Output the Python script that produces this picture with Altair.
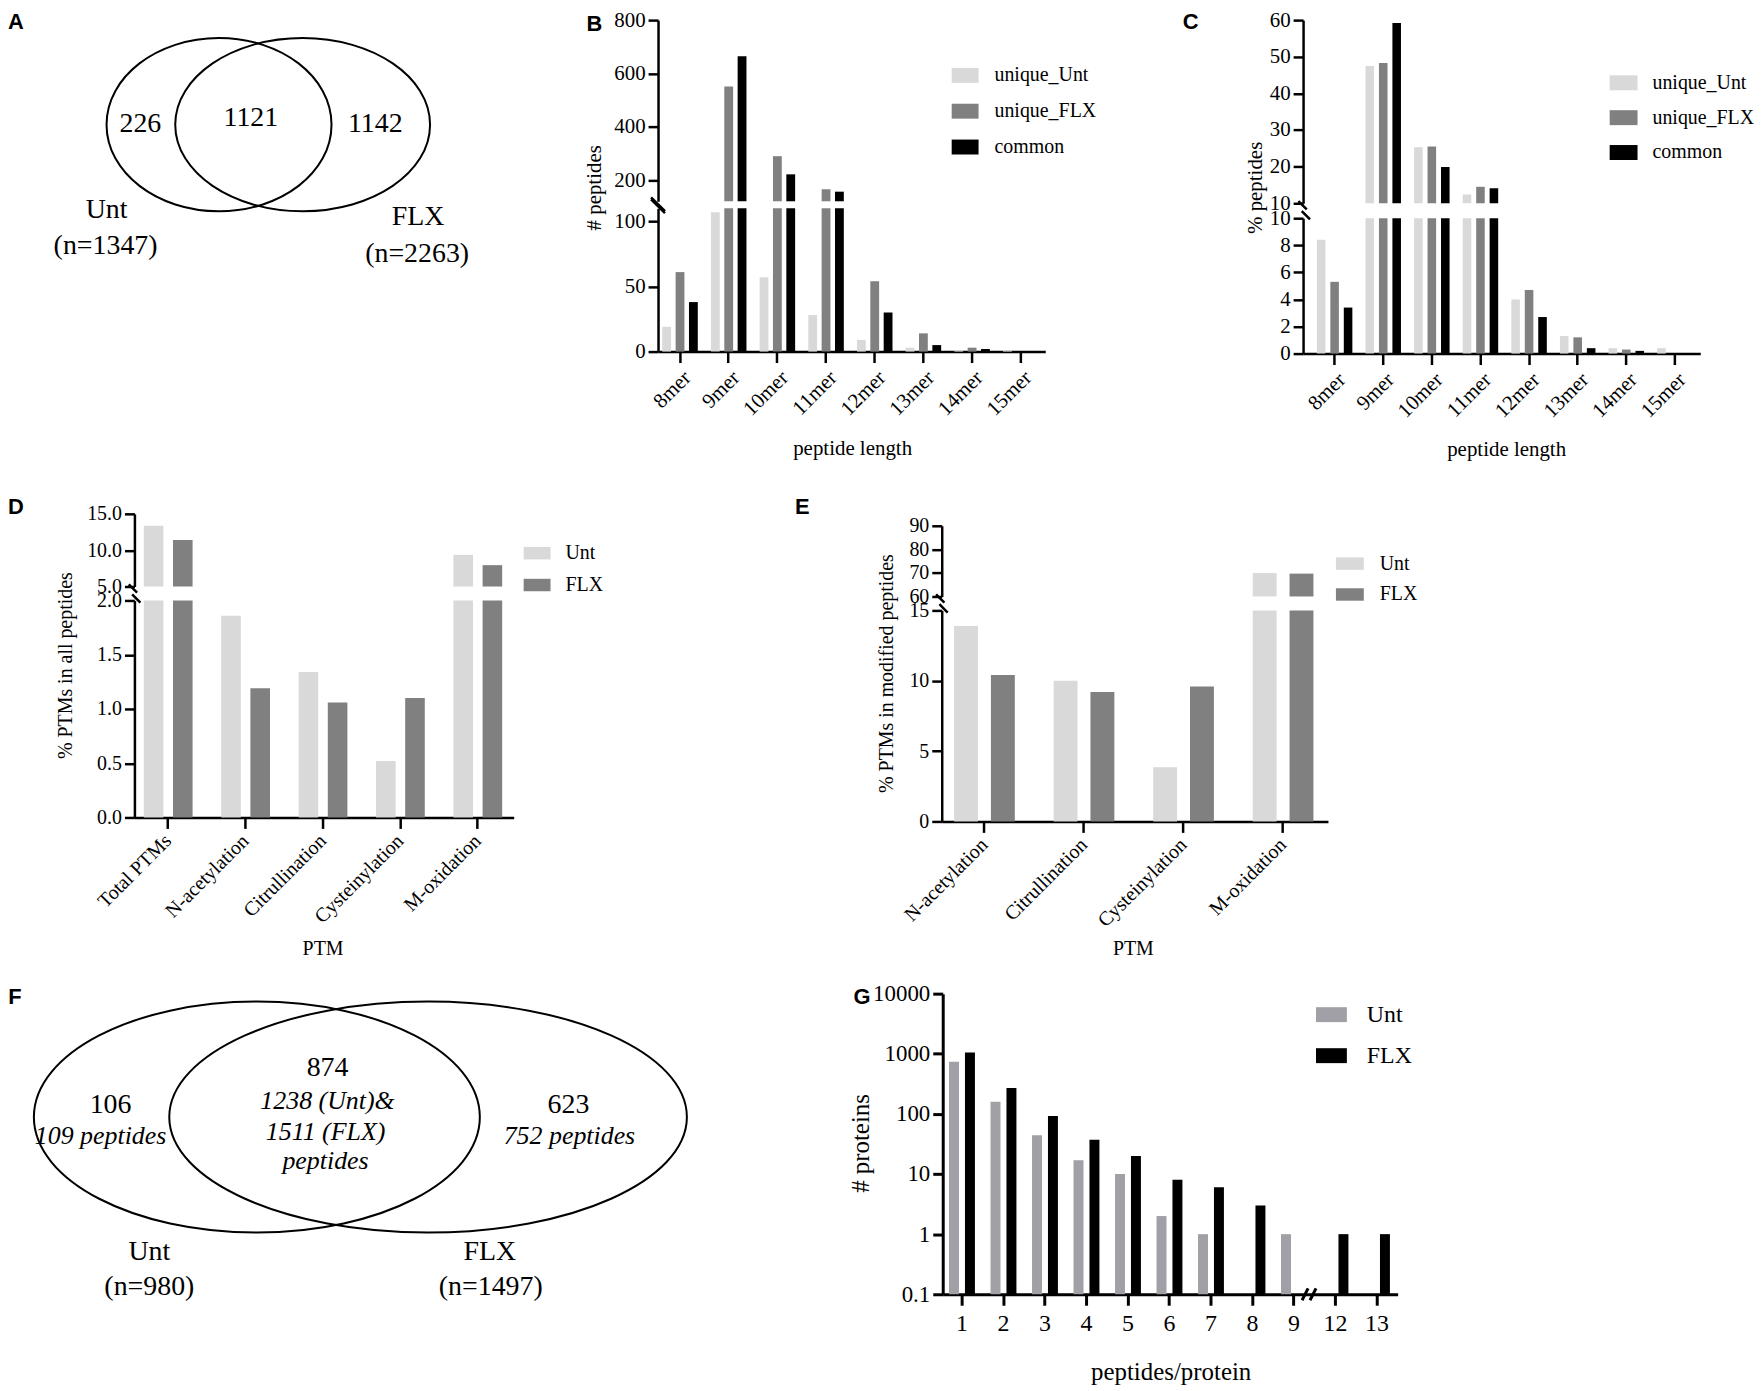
import altair as alt
import pandas as pd

# ---------------- values ----------------
venn_a_numbers = ['226', '1121', '1142']
venn_a_names = ['Unt', 'FLX']
venn_a_totals = ['(n=1347)', '(n=2263)']

lengths = ['8mer', '9mer', '10mer', '11mer', '12mer', '13mer', '14mer', '15mer']
length_series = ['unique_Unt', 'unique_FLX', 'common']
count_unique_unt = [19, 107, 57, 28, 9, 3, 1, 1]
count_unique_flx = [61, 551, 290, 166, 54, 14, 3, 0]
count_common = [38, 665, 222, 157, 30, 5, 2, 0]
pct_unique_unt = [8.4, 47.5, 25.3, 12.4, 4.0, 1.3, 0.4, 0.4]
pct_unique_flx = [5.3, 48.3, 25.5, 14.5, 4.7, 1.2, 0.3, 0.0]
pct_common = [3.4, 59.2, 19.9, 14.1, 2.7, 0.4, 0.2, 0.0]

groups = ['Unt', 'FLX']
ptm_all = ['Total PTMs', 'N-acetylation', 'Citrullination', 'Cysteinylation', 'M-oxidation']
ptm_all_unt = [13.35, 1.86, 1.34, 0.52, 9.36]
ptm_all_flx = [11.4, 1.19, 1.06, 1.10, 7.94]
ptm_mod = ['N-acetylation', 'Citrullination', 'Cysteinylation', 'M-oxidation']
ptm_mod_unt = [13.9, 10.0, 3.85, 69.9]
ptm_mod_flx = [10.4, 9.2, 9.6, 69.7]

venn_f_numbers = ['106', '874', '623']
venn_f_peptides = ['109 peptides', '1238 (Unt)&', '1511 (FLX)', 'peptides', '752 peptides']
venn_f_names = ['Unt', 'FLX']
venn_f_totals = ['(n=980)', '(n=1497)']

peptides_per_protein = ['1', '2', '3', '4', '5', '6', '7', '8', '9', '12', '13']
proteins_unt = [740, 160, 44, 17, 10, 2, 1, None, 1, None, None]
proteins_flx = [1050, 270, 92, 37, 20, 8, 6, 3, None, 1, 1]

panel_letters = ['A', 'B', 'C', 'D', 'E', 'F', 'G']

# ---------------- layout / style ----------------
SERIF = 'Liberation Serif'
SANS = 'Liberation Sans'
W, H = 1755, 1383
O = 8  # page margin: reference pixel = canvas pixel + 8


def g(v):
    return v - O


def canvas_enc():
    return dict(
        x=alt.X('x:Q', scale=alt.Scale(domain=[O, O + W], range=[0, W], nice=False, zero=False), axis=None),
        y=alt.Y('y:Q', scale=alt.Scale(domain=[O, O + H], range=[0, H], nice=False, zero=False), axis=None),
    )


def text_layer(labels, pos, size, style='normal', weight='normal', font=SERIF):
    df = pd.DataFrame({'label': labels, 'x': [p[0] for p in pos], 'y': [p[1] for p in pos]})
    return alt.Chart(df).mark_text(font=font, fontSize=size, fontStyle=style, fontWeight=weight,
                                   align='center', baseline='middle', color='black').encode(
        text='label:N', **canvas_enc())


def ellipse_layer(xc, yc, rx, ry):
    k = ry / rx
    path = f"M-1,0A1,{k:.4f},0,0,1,1,0A1,{k:.4f},0,0,1,-1,0Z"
    df = pd.DataFrame({'x': [xc], 'y': [yc]})
    return alt.Chart(df).mark_point(shape=path, size=(2 * rx) ** 2, filled=False, color='black',
                                    strokeWidth=2, opacity=1).encode(**canvas_enc())


def break_layer(x, y, path, size=400, sw=2.5):
    df = pd.DataFrame({'x': [x], 'y': [y]})
    return alt.Chart(df).mark_point(shape=path, size=size, filled=False, color='black',
                                    strokeWidth=sw, opacity=1).encode(**canvas_enc())


def long_df(cats, names, values):
    rows = []
    for name, vals in zip(names, values):
        for c, v in zip(cats, vals):
            if v is not None:
                rows.append({'cat': c, 'series': name, 'value': v})
    return pd.DataFrame(rows)


def band_scale(cats, a0, a1, pin, pout, align):
    return alt.Scale(domain=cats, range=[g(a0), g(a1)], paddingInner=pin, paddingOuter=pout, align=align)


def y_axis(a_x, values, fs, fmt=None, title=None, tx=0, ty=0, tfs=21, pad=3, tick=10, width=2.5):
    kw = dict(orient='left', offset=-g(a_x), values=values, labelFontSize=fs, labelPadding=pad,
              tickSize=tick, domainWidth=width, tickWidth=width)
    if fmt:
        kw['format'] = fmt
    if title:
        kw.update(title=title, titleX=tx, titleY=ty, titleFontSize=tfs, titleAngle=270,
                  titleAlign='center', titleBaseline='middle')
    else:
        kw['title'] = None
    return alt.Axis(**kw)


def x_axis(a_y, fs, title, tx, ty, tfs=21, angle=315, tick=11, pad=7, width=2.5, lbase='middle'):
    kw = dict(orient='bottom', offset=g(a_y) - H, labelFontSize=fs, labelAngle=angle, tickSize=tick,
              labelPadding=pad, bandPosition=0.5, domainWidth=width, tickWidth=width,
              title=title, titleX=g(tx), titleY=ty - a_y, titleFontSize=tfs, titleAngle=0,
              titleAlign='center', titleBaseline='middle')
    if angle:
        kw.update(labelAlign='right', labelBaseline=lbase)
    else:
        kw.update(labelAlign='center', labelBaseline='top')
    return alt.Axis(**kw)


def legend_sym(x, yc, w, h, spacing, lab_off, fs):
    k = h / w
    path = f"M-1,-{k:.3f}H1V{k:.3f}H-1Z"
    row_h = 1.2 * fs
    return alt.Legend(orient='none', legendX=g(x), legendY=g(yc) - row_h / 2, direction='vertical',
                      title=None, symbolType=path, symbolSize=w * w, symbolStrokeWidth=0, symbolOpacity=1,
                      labelFont=SERIF, labelFontSize=fs, labelColor='black', labelOffset=lab_off,
                      rowPadding=spacing - row_h, padding=0, labelLimit=0)


def segment(df, cats, names, colors, xscale, opin, y_bottom, y_top, ydom, yaxis,
            xaxis=None, legend=None, log=False, base=0):
    ys = dict(domain=ydom, range=[g(y_bottom), g(y_top)], clamp=True, nice=False, zero=False)
    if log:
        ys['type'] = 'log'
    return alt.Chart(df).mark_bar().encode(
        x=alt.X('cat:N', sort=cats, scale=xscale, axis=xaxis),
        xOffset=alt.XOffset('series:N', sort=names,
                            scale=alt.Scale(domain=names, paddingInner=opin, paddingOuter=0)),
        y=alt.Y('value:Q', scale=alt.Scale(**ys), axis=yaxis),
        y2=alt.datum(base),
        color=alt.Color('series:N', scale=alt.Scale(domain=names, range=colors), legend=legend),
    )


colors3 = ['#d9d9d9', '#808080', '#000000']
colors2 = ['#d9d9d9', '#808080']
colorsG = ['#a0a0a6', '#000000']
BREAK_DOWN = "M-0.57,-0.92L0.27,-0.08M-0.23,0.08L0.6,0.92"
BREAK_B = "M-0.7,-0.8L0.7,0.6M-0.7,-0.6L0.7,0.8"
BREAK_UP = "M-0.7,0.6L-0.1,-0.6M0.1,0.6L0.7,-0.6"

layers = []

# ---- A: Venn ----
layers += [
    ellipse_layer(220, 122, 113, 87),
    ellipse_layer(304, 122, 128, 87),
    text_layer(venn_a_numbers, [(141, 121), (252, 115), (377, 121)], 28),
    text_layer(venn_a_names, [(107, 208), (420, 215)], 28),
    text_layer(venn_a_totals, [(106, 244), (419, 252)], 28),
]

# ---- B: counts by length ----
xB = band_scale(lengths, 661, 1050, 0.27, 0.1125, 0.386)
dfB = long_df(lengths, length_series, [count_unique_unt, count_unique_flx, count_common])
layers += [
    segment(dfB, lengths, length_series, colors3, xB, 0.34, 199, 17, [121, 800],
            y_axis(661, [200, 400, 600, 800], 21), xaxis=None,
            legend=legend_sym(956, 71, 27, 15, 36, 16, 20)),
    segment(dfB, lengths, length_series, colors3, xB, 0.34, 350, 206, [0, 110],
            y_axis(661, [0, 50, 100], 21, title='# peptides', tx=597 - 661, ty=g(185)),
            xaxis=x_axis(350, 21, 'peptide length', 856, 447, pad=4, lbase='top')),
    break_layer(661, 203, BREAK_B, 400),
]

# ---- C: % by length ----
xC = band_scale(lengths, 1309, 1708, 0.27, 0.22, 0.645)
dfC = long_df(lengths, length_series, [pct_unique_unt, pct_unique_flx, pct_common])
layers += [
    segment(dfC, lengths, length_series, colors3, xC, 0.364, 201, 17, [10, 60],
            y_axis(1309, [10, 20, 30, 40, 50, 60], 21), xaxis=None,
            legend=legend_sym(1617, 78, 28, 15, 35, 15, 20)),
    segment(dfC, lengths, length_series, colors3, xC, 0.364, 352, 216, [0, 10],
            y_axis(1309, [0, 2, 4, 6, 8, 10], 21, title='% peptides', tx=1261 - 1309, ty=g(185)),
            xaxis=x_axis(352, 21, 'peptide length', 1513, 448, pad=4, lbase='top')),
    break_layer(1310, 208, BREAK_DOWN, 400),
]

# ---- D: % PTMs in all peptides ----
xD = band_scale(ptm_all, 135, 516, 0.37, 0.135, 0.45)
dfD = long_df(ptm_all, groups, [ptm_all_unt, ptm_all_flx])
layers += [
    segment(dfD, ptm_all, groups, colors2, xD, 0.328, 586, 513, [5, 15],
            y_axis(135, [5, 10, 15], 20, fmt='.1f'), xaxis=None,
            legend=legend_sym(526, 551, 27, 12.5, 32, 15, 20)),
    segment(dfD, ptm_all, groups, colors2, xD, 0.328, 818, 600, [0, 2],
            y_axis(135, [0, 0.5, 1, 1.5, 2], 20, fmt='.1f', title='% PTMs in all peptides',
                   tx=66 - 135, ty=g(665), tfs=20),
            xaxis=x_axis(818, 20, 'PTM', 324, 950, tfs=20, pad=9)),
    break_layer(135, 593, BREAK_DOWN, 400),
]

# ---- E: % PTMs in modified peptides ----
xE = band_scale(ptm_mod, 946, 1334, 0.39, 0.135, 0.46)
dfE = long_df(ptm_mod, groups, [ptm_mod_unt, ptm_mod_flx])
layers += [
    segment(dfE, ptm_mod, groups, colors2, xE, 0.351, 596, 525, [60, 90],
            y_axis(946, [60, 70, 80, 90], 20), xaxis=None,
            legend=legend_sym(1342, 561, 28, 12.5, 31, 16, 20)),
    segment(dfE, ptm_mod, groups, colors2, xE, 0.351, 822, 610, [0, 15],
            y_axis(946, [0, 5, 10, 15], 20, title='% PTMs in modified peptides',
                   tx=891 - 946, ty=g(673), tfs=20),
            xaxis=x_axis(822, 20, 'PTM', 1138, 950, tfs=20, pad=9)),
    break_layer(946, 603, BREAK_DOWN, 400),
]

# ---- F: Venn ----
layers += [
    ellipse_layer(258, 1119, 224, 116),
    ellipse_layer(430, 1119, 260, 116),
    text_layer(venn_f_numbers, [(111, 1107), (329, 1070), (571, 1107)], 28),
    text_layer(venn_f_peptides, [(101, 1138), (329, 1103), (327, 1134), (327, 1163), (572, 1138)], 26,
               style='italic'),
    text_layer(venn_f_names, [(150, 1255), (492, 1255)], 28),
    text_layer(venn_f_totals, [(150, 1290), (493, 1290)], 28),
]

# ---- G: peptides per protein (log) ----
xG = band_scale(peptides_per_protein, 947, 1404, 0.376, 0.169, 0.45)
dfG = long_df(peptides_per_protein, groups, [proteins_unt, proteins_flx])
layers += [
    segment(dfG, peptides_per_protein, groups, colorsG, xG, 0.375, 1297, 995, [0.1, 10000],
            y_axis(947, [0.1, 1, 10, 100, 1000, 10000], 23, fmt='~g', title='# proteins',
                   tx=864 - 947, ty=g(1145), tfs=25, pad=3, width=3),
            xaxis=x_axis(1297, 24, 'peptides/protein', 1176, 1375, tfs=25, angle=0, tick=11, pad=6, width=3),
            legend=legend_sym(1322, 1015, 31, 15, 42, 20, 24), log=True, base=0.1),
    break_layer(1315, 1297, BREAK_UP, 400, 3),
]

# ---- panel letters ----
layers.append(text_layer(panel_letters,
                         [(16, 19), (597, 21), (1196, 19), (16, 506), (806, 506), (15, 998), (866, 998)],
                         22, weight='bold', font=SANS))

chart = alt.layer(*layers).resolve_scale(
    x='independent', y='independent', color='independent', xOffset='independent'
).resolve_axis(
    x='independent', y='independent'
).resolve_legend(
    color='independent'
).properties(
    width=W, height=H, padding=0, autosize=alt.AutoSizeParams(type='none')
).configure_view(
    strokeWidth=0
).configure_axis(
    domainColor='black', tickColor='black', labelColor='black', titleColor='black',
    labelFont=SERIF, titleFont=SERIF, titleFontWeight='normal', grid=False,
    labelOverlap=False, labelFlush=False
)

chart.save("out.html", embed_options={"renderer": "svg", "actions": False})
